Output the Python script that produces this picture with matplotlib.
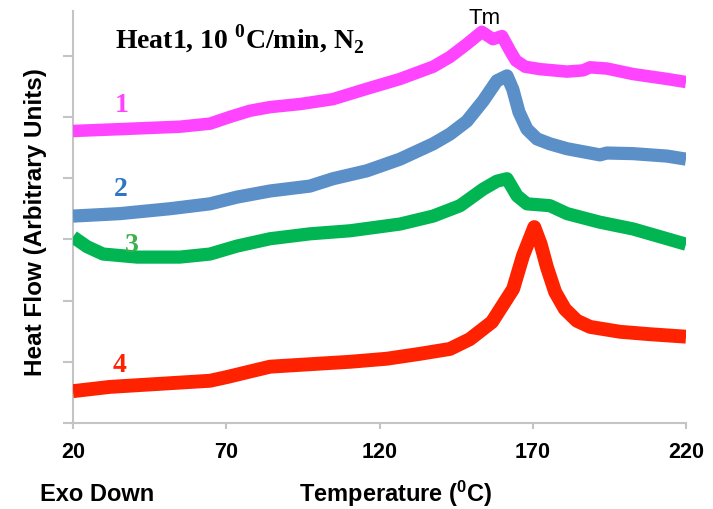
import matplotlib
matplotlib.use("Agg")
import matplotlib.pyplot as plt

plt.rcParams['mathtext.fontset'] = 'custom'
plt.rcParams['mathtext.rm'] = 'Liberation Serif:bold'
plt.rcParams['mathtext.sf'] = 'Liberation Sans:bold'

# ---- data ----
t1 = [20, 35.3, 54.9, 64.7, 71.2, 77.7, 84.3, 94.1, 104.8, 115.9, 126.7, 137.5, 143, 148.5, 153.4,
      157, 160, 162.6, 164.5, 167.5, 172.4, 181.2, 186.4, 188.7, 194.2, 202.7, 213.8, 220]
h1 = [4.77, 4.80, 4.84, 4.89, 5.00, 5.10, 5.16, 5.21, 5.29, 5.46, 5.62, 5.82, 5.98, 6.19, 6.39,
      6.27, 6.32, 6.08, 5.92, 5.82, 5.78, 5.74, 5.76, 5.81, 5.79, 5.70, 5.62, 5.57]

t2 = [20, 35.3, 51.6, 64.7, 73.5, 84.3, 97.3, 104.8, 115.9, 126.7, 137.5, 143, 148.5, 153.8, 158.3,
      161.6, 163.5, 165.5, 168.1, 171.4, 175.6, 181.2, 191.9, 194.2, 202.7, 213.8, 220]
h2 = [3.38, 3.42, 3.50, 3.58, 3.69, 3.79, 3.87, 3.99, 4.12, 4.31, 4.56, 4.72, 4.93, 5.26, 5.59,
      5.67, 5.45, 5.08, 4.80, 4.64, 4.56, 4.48, 4.38, 4.41, 4.40, 4.36, 4.31]

t3 = [20, 24.6, 29.8, 40.9, 54.9, 64.7, 73.5, 84.3, 97.3, 110.4, 126.7, 137.5, 146.3, 153.8, 158.3,
      161.6, 164.9, 168.1, 175.6, 181.2, 191.9, 202.7, 213.8, 220]
h3 = [3.04, 2.88, 2.76, 2.71, 2.71, 2.76, 2.89, 3.01, 3.09, 3.14, 3.25, 3.38, 3.55, 3.82, 3.95,
      3.99, 3.71, 3.58, 3.55, 3.42, 3.28, 3.17, 3.01, 2.92]

t4 = [20, 32.1, 48.4, 64.7, 70.2, 76.8, 84.3, 97.3, 110.4, 122.4, 133.2, 143, 149.5, 156.7, 163.6,
      166.8, 170.5, 172.6, 174.6, 177.3, 180.5, 184.4, 188.7, 198.5, 208.3, 220]
h4 = [0.52, 0.59, 0.64, 0.69, 0.75, 0.83, 0.92, 0.96, 1.00, 1.05, 1.13, 1.21, 1.37, 1.65, 2.19,
      2.73, 3.20, 2.92, 2.55, 2.14, 1.86, 1.67, 1.57, 1.49, 1.45, 1.41]

xticks = [20, 70, 120, 170, 220]
yticks = [0, 1, 2, 3, 4, 5, 6]

W, H = 713, 510
fig = plt.figure(figsize=(W / 100, H / 100), dpi=100)
ax = fig.add_axes([73 / W, 1 - 424 / H, (686 - 73) / W, (424 - 12) / H])

def fx(px):
    return px / W

def fy(py):
    return 1 - py / H

for t, h, c, lw in [(t1, h1, '#ff44ff', 9.0), (t2, h2, '#5b8fc8', 9.5),
                    (t3, h3, '#00b552', 9.5), (t4, h4, '#ff2200', 10.0)]:
    ax.plot(t, h, color=c, lw=lw, solid_joinstyle='round', solid_capstyle='butt', zorder=3)

ax.set_xlim(20, 220)
ax.set_ylim(0, 6.73)
ax.set_xticks(xticks)
ax.set_yticks(yticks)
ax.set_yticklabels([])
ax.set_xticklabels([])
for s in ['top', 'right']:
    ax.spines[s].set_visible(False)
for s in ['left', 'bottom']:
    ax.spines[s].set_color('#c4c4c4')
    ax.spines[s].set_linewidth(1.5)
ax.tick_params(axis='y', direction='out', length=7, width=1.5, color='#c4c4c4')
ax.tick_params(axis='x', direction='out', length=4, width=1.5, color='#c4c4c4')

for v in xticks:
    px = 73 + (v - 20) * (686 - 73) / 200
    fig.text(fx(px), fy(453), str(v), ha='center', va='center', fontsize=15.5,
             family='Liberation Sans', weight='bold')

fig.text(fx(97), fy(495), 'Exo Down', ha='center', va='center', fontsize=17,
         family='Liberation Sans', weight='bold')
fig.text(fx(396), fy(494), r'Temperature ($\mathsf{^{0}}$C)', ha='center', va='center',
         fontsize=17, family='Liberation Sans', weight='bold')
fig.text(fx(36), fy(222), 'Heat Flow (Arbitrary Units)', ha='center', va='center',
         rotation=90, fontsize=17.5, family='Liberation Sans', weight='bold')

fig.text(fx(115), fy(49), r'Heat1, 10 $^{0}$C/min, N$_{2}$', ha='left', va='baseline',
         fontsize=20, family='Liberation Serif', weight='bold')
fig.text(fx(485), fy(19), 'Tm', ha='center', va='center', fontsize=16,
         family='Liberation Sans')

for lab, px, py, c in [('1', 122, 106, '#ff44ff'), ('2', 121, 189, '#2e75c4'),
                       ('3', 132, 246, '#3cb04a'), ('4', 120, 366, '#ff2200')]:
    fig.text(fx(px), fy(py), lab, ha='center', va='center', fontsize=20,
             family='Liberation Serif', weight='bold', color=c, zorder=1)

fig.savefig('out.png', dpi=100)
